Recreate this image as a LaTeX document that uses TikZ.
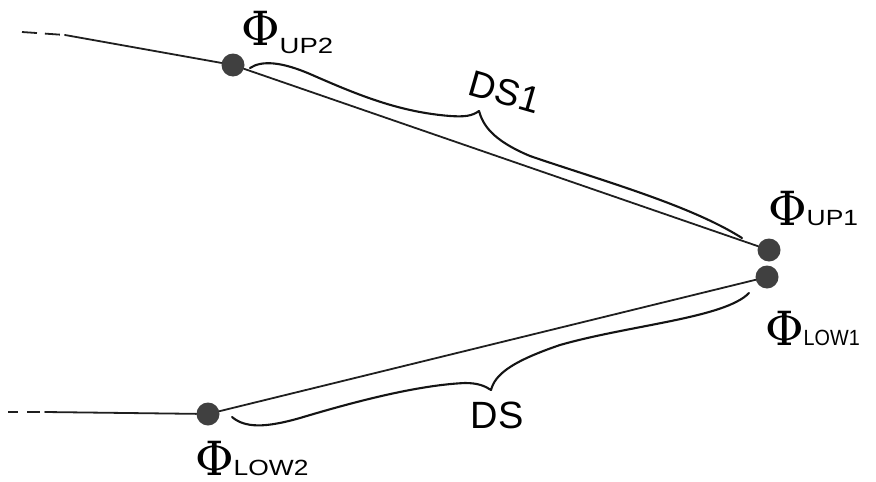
\documentclass[tikz,border=0pt]{standalone}
\usepackage{fontspec}
\usepackage{graphicx}
\newfontfamily\handfont{Liberation Sans}
\newfontfamily\phifont{DejaVu Serif}
% subscript tag, with its own horizontal stretch
\newcommand{\subtag}[2]{\scalebox{#1}[1]{\fontsize{22}{22}\handfont #2}}
\newcommand{\bigphi}{{\fontsize{47}{47}\phifont Φ}}
\begin{document}
\begin{tikzpicture}[x=1pt,y=-1pt,
  wire/.style={line width=1.8pt, draw=black!88, line cap=round},
  bracestroke/.style={line width=2.1pt, draw=black!92, line cap=round, line join=round},
  dotnode/.style={circle, fill=black!75, inner sep=0pt, minimum size=23pt},
  philabel/.style={anchor=base west, inner sep=0pt},
  measlabel/.style={inner sep=0pt, font=\fontsize{38}{38}\handfont}]
  \fill[white] (0,0) rectangle (876,482);
  \useasboundingbox (0,0) rectangle (876,482);

  % electrodes
  \node[dotnode] (upTwo)  at (233,65)  {};
  \node[dotnode] (upOne)  at (769,250) {};
  \node[dotnode] (lowOne) at (767,277) {};
  \node[dotnode] (lowTwo) at (208,414) {};

  % incoming leads, continued off to the left
  \coordinate (tailUp)  at (22,32);
  \coordinate (farUp)   at (65,35);
  \coordinate (tailLow) at (8,412);
  \coordinate (farLow)  at (45,412);
  \draw[wire, line cap=butt, dash pattern=on 15pt off 8pt on 15pt off 5pt] (tailUp) -- (farUp);
  \draw[wire] (farUp) -- (upTwo);
  \draw[wire, line cap=butt, dash pattern=on 10pt off 9pt on 13pt off 5pt] (tailLow) -- (farLow);
  \draw[wire] (farLow) -- (lowTwo);

  % the two converging segments
  \draw[wire] (upTwo) -- (upOne);
  \draw[wire] (lowOne) -- (lowTwo);

  % brace over the upper segment
  \coordinate (braceUpA) at (250,68);
  \coordinate (braceUpTip) at (479,111);
  \coordinate (braceUpB) at (742,238);
  \draw[bracestroke] (braceUpA) .. controls (262,60) and (282,62) .. (310,74)
    .. controls (360,96) and (400,112) .. (450,116)
    .. controls (465,117) and (472,116) .. (braceUpTip)
    .. controls (483,125) and (492,140) .. (530,156)
    .. controls (600,180) and (690,205) .. (braceUpB);

  % brace under the lower segment
  \coordinate (braceLowA) at (232,417);
  \coordinate (braceLowTip) at (491,390);
  \coordinate (braceLowB) at (749,293);
  \draw[bracestroke] (braceLowA) .. controls (245,428) and (265,428) .. (300,418)
    .. controls (360,400) and (420,385) .. (465,383)
    .. controls (478,383) and (485,386) .. (braceLowTip)
    .. controls (495,375) and (510,362) .. (560,345)
    .. controls (630,325) and (725,318) .. (braceLowB);

  % labels
  \node[philabel] (lblUpTwo)  at (241,45)  {\bigphi\raisebox{-8pt}{\subtag{1.25}{UP2}}};
  \node[philabel] (lblUpOne)  at (768,225) {\bigphi\subtag{1.2}{UP1}};
  \node[philabel] (lblLowOne) at (765,345) {\bigphi\subtag{0.9}{LOW1}};
  \node[philabel] (lblLowTwo) at (195,475) {\bigphi\subtag{1.2}{LOW2}};
  \node[measlabel, rotate=-16, font=\fontsize{37}{37}\handfont] (lblDSOne) at (505,92) {DS1};
  \node[measlabel] (lblDS) at (497,415) {DS};
\end{tikzpicture}
\end{document}
